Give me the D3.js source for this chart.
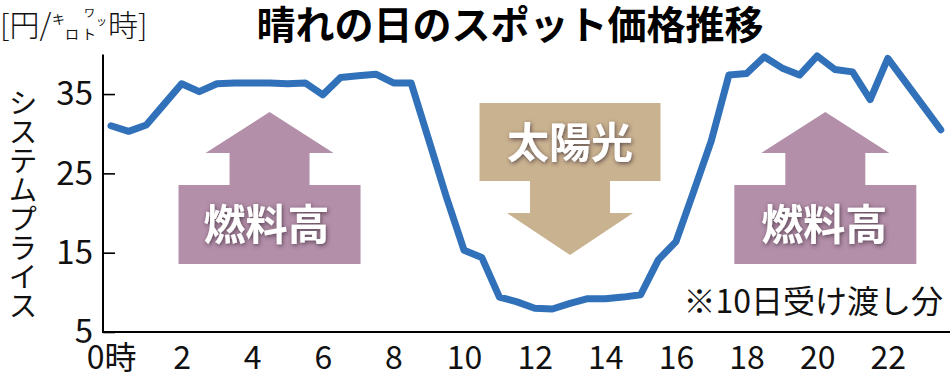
<!DOCTYPE html>
<html>
<head>
<meta charset="utf-8">
<script src="https://cdn.jsdelivr.net/npm/d3@7"></script>
<style>
  html, body { margin: 0; padding: 0; background: #fff; }
  svg { display: block; }
  text { font-family: "Noto Sans CJK JP", "Noto Sans", sans-serif; }
</style>
</head>
<body>
<svg id="chart" width="950" height="378"></svg>
<script>
// ---- data ----
const title = "晴れの日のスポット価格推移";
const yTitle = "システムプライス";
const note = "※10日受け渡し分";
const hours = d3.range(0, 24, 0.5); // 30-minute slots
const prices = [
  31.0, 30.3, 31.1, 33.7, 36.3, 35.3, 36.3, 36.4, 36.4, 36.4, 36.3, 36.4,
  34.9, 37.1, 37.3, 37.5, 36.4, 36.4, 29.2, 22.0, 15.3, 14.4, 9.4, 8.8,
  8.0, 7.9, 8.6, 9.2, 9.2, 9.4, 9.7, 14.1, 16.4, 22.7, 29.1, 37.4,
  37.6, 39.7, 38.3, 37.4, 39.8, 38.1, 37.8, 34.3, 39.5, 36.5, 33.5, 30.5
];
const yTicks = [5, 15, 25, 35];
const xTicks = [0, 2, 4, 6, 8, 10, 12, 14, 16, 18, 20, 22];
const xTickLabels = ["0時", "2", "4", "6", "8", "10", "12", "14", "16", "18", "20", "22"];
const arrowLabels = ["燃料高", "太陽光", "燃料高"];

// ---- layout ----
const svg = d3.select("#chart");
const x = d3.scaleLinear().domain([0, 24]).range([111, 111 + 24 * 35.31]);
const y = d3.scaleLinear().domain([5, 40]).range([332, 54.4]);
const axisX0 = 103;

// filter for text shadow
const defs = svg.append("defs");
const f = defs.append("filter").attr("id", "shadow")
  .attr("x", "-20%").attr("y", "-30%").attr("width", "140%").attr("height", "160%");
f.append("feDropShadow").attr("dx", 1).attr("dy", 1.5).attr("stdDeviation", 2)
  .attr("flood-color", "#3a2a35").attr("flood-opacity", 0.75);

// ---- arrows (annotations) ----
function upArrow(cx) {
  const tipY = 112, headY = 153, boxTop = 185, boxBot = 264;
  const hh = 64, sh = 40, bh = 91;
  return [[cx, tipY], [cx + hh, headY], [cx + sh, headY], [cx + sh, boxTop], [cx + bh, boxTop],
          [cx + bh, boxBot], [cx - bh, boxBot], [cx - bh, boxTop], [cx - sh, boxTop],
          [cx - sh, headY], [cx - hh, headY]];
}
function downArrow(cx) {
  const boxTop = 103, boxBot = 181, headY = 213, tipY = 255;
  const hh = 63, sh = 40, bh = 90.5;
  return [[cx - bh, boxTop], [cx + bh, boxTop], [cx + bh, boxBot], [cx + sh, boxBot],
          [cx + sh, headY], [cx + hh, headY], [cx, tipY], [cx - hh, headY],
          [cx - sh, headY], [cx - sh, boxBot], [cx - bh, boxBot]];
}
const leftCx = x(4.49), midCx = x(13.0), rightCx = x(20.23);
const purple = "#b38fa9", tan = "#c9b28f";
svg.append("polygon").attr("points", upArrow(leftCx).join(" ")).attr("fill", purple);
svg.append("polygon").attr("points", upArrow(rightCx).join(" ")).attr("fill", purple);
svg.append("polygon").attr("points", downArrow(midCx).join(" ")).attr("fill", tan);

const lblStyle = sel => sel.attr("text-anchor", "middle").attr("fill", "#fff")
  .attr("font-size", 42).attr("font-weight", 700).attr("filter", "url(#shadow)");
svg.append("text").attr("x", leftCx - 3).attr("y", 240).text(arrowLabels[0]).call(lblStyle);
svg.append("text").attr("x", midCx).attr("y", 158).text(arrowLabels[1]).call(lblStyle);
svg.append("text").attr("x", rightCx - 1).attr("y", 240).text(arrowLabels[2]).call(lblStyle);

// ---- axes ----
const yAxis = d3.axisLeft(y).tickValues(yTicks).tickSizeInner(-12).tickSizeOuter(0).tickPadding(10);
const gy = svg.append("g").attr("transform", `translate(${axisX0},0)`).call(yAxis);
gy.select(".domain").remove();
gy.selectAll(".tick line").attr("stroke", "#000").attr("stroke-width", 1.6);
gy.selectAll(".tick text").attr("font-size", 33).attr("fill", "#111")
  .attr("font-family", "'Noto Sans CJK JP', sans-serif").attr("dy", "0.33em");

const xAxis = d3.axisBottom(x).tickValues(xTicks).tickSize(0)
  .tickFormat((d, i) => xTickLabels[i]);
const gx = svg.append("g").attr("transform", `translate(0,${y(5)})`).call(xAxis);
gx.select(".domain").remove();
gx.selectAll(".tick text").attr("font-size", 32).attr("fill", "#111")
  .attr("font-family", "'Noto Sans CJK JP', sans-serif").attr("y", 37).attr("dy", 0);

// axis lines
svg.append("line").attr("x1", axisX0).attr("x2", axisX0).attr("y1", y(40)).attr("y2", y(5) + 1)
  .attr("stroke", "#000").attr("stroke-width", 2);
svg.append("line").attr("x1", axisX0 - 1).attr("x2", 950).attr("y1", y(5)).attr("y2", y(5))
  .attr("stroke", "#000").attr("stroke-width", 2);

// ---- line ----
const line = d3.line().x((d, i) => x(hours[i])).y(d => y(d));
svg.append("path").datum(prices).attr("d", line).attr("fill", "none")
  .attr("stroke", "#3071b9").attr("stroke-width", 7)
  .attr("stroke-linejoin", "round").attr("stroke-linecap", "round");

// ---- texts ----
svg.append("text").attr("x", 510).attr("y", 39).attr("text-anchor", "middle")
  .attr("font-size", 39).attr("font-weight", 700).attr("fill", "#000").text(title);

svg.append("text").attr("x", 943).attr("y", 313).attr("text-anchor", "end")
  .attr("font-size", 32).attr("fill", "#111").text(note);

svg.append("text").attr("x", 23).attr("y", 88)
  .style("writing-mode", "vertical-rl").style("text-orientation", "upright")
  .attr("font-size", 29).attr("fill", "#111").text(yTitle);

// unit label [円/ｷﾛﾜｯﾄ時]
const unit = svg.append("g").attr("fill", "#111");
unit.append("text").attr("x", 0).attr("y", 36).attr("font-size", 30).attr("font-weight", 300).text("[円/");
unit.append("text").attr("x", 52).attr("y", 24).attr("font-size", 13).text("キ");
unit.append("text").attr("x", 65).attr("y", 39).attr("font-size", 14).text("ロ");
unit.append("text").attr("x", 84).attr("y", 17).attr("font-size", 11).text("ワ");
unit.append("text").attr("x", 82).attr("y", 39).attr("font-size", 14).text("ト");
unit.append("text").attr("x", 96).attr("y", 25).attr("font-size", 11).text("ッ");
unit.append("text").attr("x", 108).attr("y", 36).attr("font-size", 30).attr("font-weight", 300).text("時]");
</script>
</body>
</html>
